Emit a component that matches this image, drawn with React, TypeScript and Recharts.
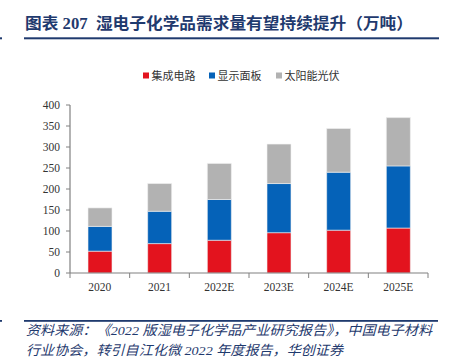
import React from "react";
import { BarChart, Bar, XAxis, YAxis } from "recharts";

const categories = ["2020", "2021", "2022E", "2023E", "2024E", "2025E"];
const icValues = [52, 70, 78, 96, 102, 107];
const displayValues = [59, 77, 97, 117, 138, 148];
const solarValues = [44, 66, 86, 94, 104, 115];
const yTicks = [0, 50, 100, 150, 200, 250, 300, 350, 400];

const seriesNames = ["集成电路", "显示面板", "太阳能光伏"];
const seriesColors = ["#E3131E", "#0562B8", "#B2B2B2"];

const data = categories.map((c, i) => ({
  name: c,
  ic: icValues[i],
  display: displayValues[i],
  solar: solarValues[i],
}));

const W = 450;
const H = 357;
const M = { top: 105, right: 22, bottom: 54, left: 0 };
const Y_AXIS_W = 70;
const X_AXIS_H = 30;
const band = (W - M.left - M.right - Y_AXIS_W) / categories.length;

const NAVY = "#1F3A6E";
const AXIS = "#808080";
const SERIF = "'Liberation Serif', 'Noto Sans CJK SC', serif";
const CJK = "'Liberation Serif', 'Noto Sans CJK SC', sans-serif";

const XTick = (props: any) => {
  const { x, y, payload, index } = props;
  const last = index === categories.length - 1;
  return (
    <g>
      <line x1={x - band / 2} x2={x - band / 2} y1={y} y2={y + 5} stroke={AXIS} strokeWidth={1} />
      {last && <line x1={x + band / 2} x2={x + band / 2} y1={y} y2={y + 5} stroke={AXIS} strokeWidth={1} />}
      <text x={x} y={y + 18} textAnchor="middle" fontFamily={SERIF} fontSize={11.5} fill="#333">
        {payload.value}
      </text>
    </g>
  );
};

const legendX = [143, 209, 276];

export default function App() {
  return (
    <div style={{ position: "absolute", left: 0, top: 0, width: W, height: H, background: "#fff" }}>
      <svg width={W} height={H} style={{ position: "absolute", left: 0, top: 0 }}>
        <text x={25} y={29} fontFamily={CJK} fontWeight={700} fontSize={16} fill={NAVY} textLength={388} lengthAdjust="spacingAndGlyphs" style={{ whiteSpace: "pre" }}>
          {"图表 207  湿电子化学品需求量有望持续提升（万吨）"}
        </text>
        <rect x={24} y={37.3} width={415} height={2} fill={NAVY} />
        <rect x={0} y={37.3} width={2} height={2} fill={NAVY} />
        {seriesNames.map((n, i) => (
          <g key={n}>
            <rect x={legendX[i]} y={72.5} width={6} height={6} fill={seriesColors[i]} />
            <text x={legendX[i] + 8.5} y={79.5} fontFamily={CJK} fontSize={11} fill="#333">
              {n}
            </text>
          </g>
        ))}
        <rect x={24} y={320} width={414} height={1.8} fill={NAVY} />
        <rect x={0} y={320} width={2} height={1.8} fill={NAVY} />
        <text x={26} y={335} fontFamily={CJK} fontStyle="italic" fontSize={13.5} fill={NAVY} textLength={406} lengthAdjust="spacingAndGlyphs">
          资料来源：《2022 版湿电子化学品产业研究报告》，中国电子材料
        </text>
        <text x={26} y={354.5} fontFamily={CJK} fontStyle="italic" fontSize={13.5} fill={NAVY} textLength={317} lengthAdjust="spacingAndGlyphs">
          行业协会，转引自江化微 2022 年度报告，华创证券
        </text>
      </svg>
      <div style={{ position: "absolute", left: 0, top: 0 }}>
        <BarChart width={W} height={H} data={data} margin={M} barCategoryGap="30%">
          <XAxis
            dataKey="name"
            height={X_AXIS_H}
            axisLine={{ stroke: AXIS, strokeWidth: 1.2 }}
            tickLine={false}
            tickSize={0}
            tickMargin={0}
            tick={<XTick />}
            interval={0}
          />
          <YAxis
            width={Y_AXIS_W}
            domain={[0, 400]}
            ticks={yTicks}
            interval={0}
            axisLine={{ stroke: AXIS, strokeWidth: 1.2 }}
            tickLine={{ stroke: AXIS }}
            tickSize={4}
            tickMargin={6}
            tick={{ fontFamily: SERIF, fontSize: 11.5, fill: "#333" }}
          />
          <Bar dataKey="ic" name={seriesNames[0]} stackId="a" fill={seriesColors[0]} stroke="#f2f2f2" strokeWidth={0.6} barSize={24} isAnimationActive={false} />
          <Bar dataKey="display" name={seriesNames[1]} stackId="a" fill={seriesColors[1]} stroke="#f2f2f2" strokeWidth={0.6} barSize={24} isAnimationActive={false} />
          <Bar dataKey="solar" name={seriesNames[2]} stackId="a" fill={seriesColors[2]} stroke="#f2f2f2" strokeWidth={0.6} barSize={24} isAnimationActive={false} />
        </BarChart>
      </div>
    </div>
  );
}
